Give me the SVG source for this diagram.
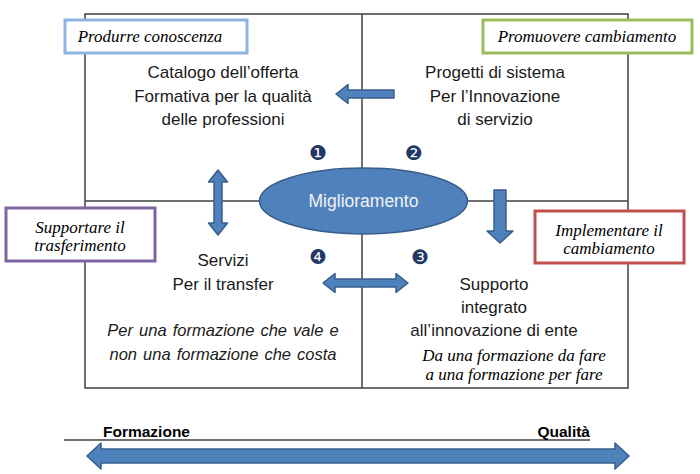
<svg xmlns="http://www.w3.org/2000/svg" width="700" height="474" viewBox="0 0 700 474">
<style>
.grid{fill:none;stroke:#404040;stroke-width:1.5}
.arrow{fill:#4F81BD;stroke:#385D8A;stroke-width:1.5;stroke-linejoin:round}
.lbl{fill:#FFFFFF;stroke-width:3}
.lt{font-family:"Liberation Serif","DejaVu Serif",serif;font-style:italic;font-size:17px;fill:#000;text-anchor:middle}
.body{font-family:"Liberation Sans",Arial,sans-serif;font-size:17px;fill:#1a1a1a;text-anchor:middle}
.ital{font-family:"Liberation Sans",Arial,sans-serif;font-style:italic;font-size:16.5px;fill:#1a1a1a;text-anchor:middle}
.num{font-family:"DejaVu Sans",sans-serif;font-size:20px;fill:#1F3864;text-anchor:middle}
.axis{font-family:"Liberation Sans",Arial,sans-serif;font-weight:bold;font-size:15.5px;fill:#000}
</style>
<rect width="700" height="474" fill="#FFFFFF"/>
<g id="grid">
<rect class="grid" x="85" y="14" width="543" height="374"/>
<line class="grid" x1="362" y1="14" x2="362" y2="388"/>
<line class="grid" x1="85" y1="201" x2="628" y2="201"/>
</g>
<g id="connectors">
<path class="arrow" d="M336,94 L348,84.5 L348,90 L394,90 L394,98 L348,98 L348,103.5 Z"/>
<path class="arrow" d="M218,170 L227.5,182 L222,182 L222,223 L227.5,223 L218,235 L208.5,223 L214,223 L214,182 L208.5,182 Z"/>
<path class="arrow" d="M494,190 L506,190 L506,231 L513,231 L500,243 L487,231 L494,231 Z"/>
<path class="arrow" d="M323,283 L335,273.5 L335,279 L396,279 L396,273.5 L408,283 L396,292.5 L396,287 L335,287 L335,292.5 Z"/>
</g>
<g id="miglioramento">
<ellipse cx="363.5" cy="201" rx="104" ry="33" fill="#4F81BD" stroke="#385D8A" stroke-width="1.5"/>
<text x="363.5" y="207" font-family="Liberation Sans,Arial,sans-serif" font-size="17.5" fill="#F2F2F2" text-anchor="middle">Miglioramento</text>
</g>
<g id="produrre">
<rect class="lbl" x="65" y="20" width="182" height="33" stroke="#8EB4E3"/>
<text class="lt" x="150" y="42">Produrre conoscenza</text>
</g>
<g id="promuovere">
<rect class="lbl" x="483" y="20" width="209" height="33" stroke="#9BBB59"/>
<text class="lt" x="587" y="42">Promuovere cambiamento</text>
</g>
<g id="supportare">
<rect class="lbl" x="6" y="208" width="149" height="53" stroke="#8064A2"/>
<text class="lt" x="80" y="233">Supportare il</text>
<text class="lt" x="80" y="251">trasferimento</text>
</g>
<g id="implementare">
<rect class="lbl" x="535" y="211" width="149" height="52" stroke="#C0504D"/>
<text class="lt" x="609" y="236">Implementare il</text>
<text class="lt" x="609" y="254">cambiamento</text>
</g>
<g id="catalogo">
<text class="body" x="223" y="78">Catalogo dell’offerta</text>
<text class="body" x="223" y="102">Formativa per la qualità</text>
<text class="body" x="223" y="125">delle professioni</text>
</g>
<g id="progetti">
<text class="body" x="495" y="78">Progetti di sistema</text>
<text class="body" x="495" y="102">Per l’Innovazione</text>
<text class="body" x="495" y="125">di servizio</text>
</g>
<g id="servizi">
<text class="body" x="223" y="266">Servizi</text>
<text class="body" x="223" y="290">Per il transfer</text>
<text class="ital" x="223" y="336" word-spacing="1.5">Per una formazione che vale e</text>
<text class="ital" x="223" y="360" word-spacing="1.5">non una formazione che costa</text>
</g>
<g id="supporto">
<text class="body" x="494" y="290">Supporto</text>
<text class="body" x="494" y="313">integrato</text>
<text class="body" x="494" y="336">all’innovazione di ente</text>
<text class="lt" x="514" y="361" font-size="16.3">Da una formazione da fare</text>
<text class="lt" x="514" y="380" font-size="16.3">a una formazione per fare</text>
</g>
<g id="numbers">
<text class="num" x="318" y="160">❶</text>
<text class="num" x="414" y="160">❷</text>
<text class="num" x="420" y="264">❸</text>
<text class="num" x="318" y="264">❹</text>
</g>
<g id="axis">
<line x1="64" y1="440" x2="590" y2="440" stroke="#404040" stroke-width="1.5"/>
<text class="axis" x="103" y="437">Formazione</text>
<text class="axis" x="590" y="437" text-anchor="end">Qualità</text>
<path class="arrow" d="M87,456 L101,443 L101,449 L615,449 L615,443 L629,456 L615,469 L615,463 L101,463 L101,469 Z"/>
</g>
</svg>
